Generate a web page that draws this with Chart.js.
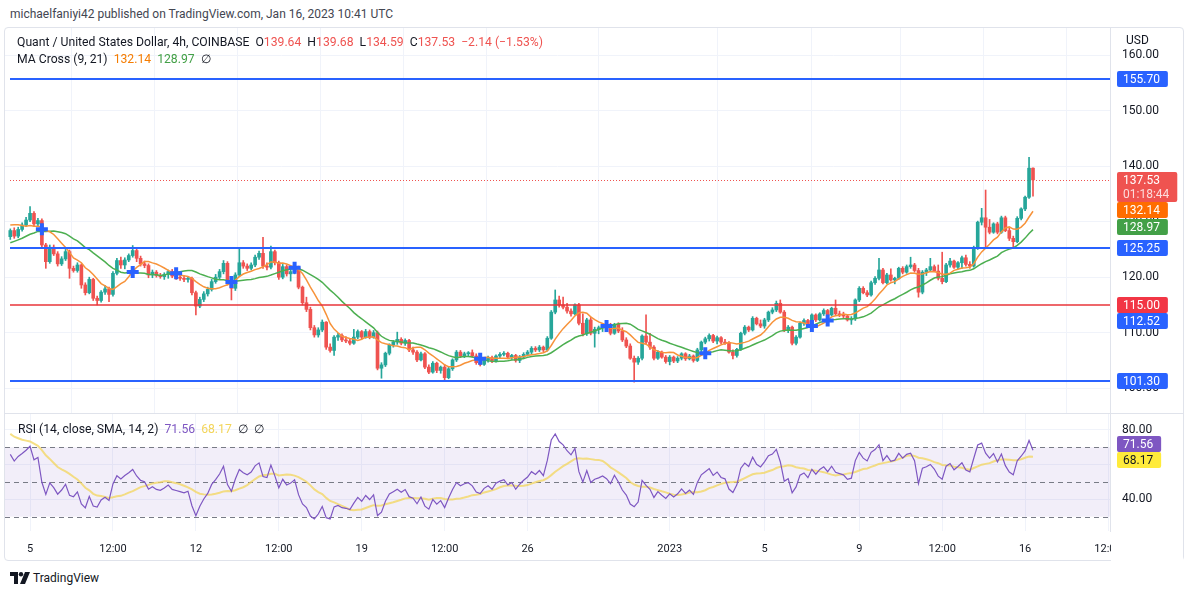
<!DOCTYPE html>
<html>
<head>
<meta charset="utf-8">
<title>Quant / United States Dollar, 4h</title>
<script src="https://cdn.jsdelivr.net/npm/chart.js@4.4.1/dist/chart.umd.min.js"></script>
<style>
  body { margin: 0; width: 1194px; height: 597px; background: #fff; position: relative; overflow: hidden;
         font-family: Roboto, "Liberation Sans", Arial, sans-serif; color: #131722; }
  .abs { position: absolute; white-space: nowrap; }
  #pub { left: 10px; top: 7px; font-size: 12px; color: #434651; }
  #frame { left: 4px; top: 27px; width: 1180px; height: 534px; border: 1px solid #e0e3eb; border-radius: 4px; box-sizing: border-box; }
  #sepH { left: 5px; top: 413px; width: 1178px; height: 1px; background: #e0e3eb; }
  #sepV { left: 1110px; top: 28px; width: 1px; height: 504px; background: #e0e3eb; }
  canvas { position: absolute; }
  #priceCanvas { left: 5px; top: 28px; }
  #rsiCanvas { left: 5px; top: 413px; }
  .lg { font-size: 12.2px; line-height: 15px; }
  .red { color: #ef5350; } .org { color: #f57c00; } .grn { color: #43a047; }
  .pur { color: #7e57c2; } .yel { color: #f3d55b; }
  #lg1 { left: 17px; top: 35px; } #lg2 { left: 17px; top: 52px; } #lg3 { left: 18px; top: 422px; }
  #foot { left: 10px; top: 571px; font-size: 12px; display: flex; align-items: center; gap: 3px; color: #131722; }
</style>
</head>
<body>
<div class="abs" id="pub">michaelfaniyi42 published on TradingView.com, Jan 16, 2023 10:41 UTC</div>
<div class="abs" id="frame"></div>
<canvas id="priceCanvas" width="1178" height="385"></canvas>
<canvas id="rsiCanvas" width="1178" height="148"></canvas>
<div class="abs" id="sepH"></div>
<div class="abs" id="sepV"></div>
<div class="abs lg" id="lg1">Quant / United States Dollar, 4h, COINBASE&nbsp; O<span class="red">139.64</span>&nbsp; H<span class="red">139.68</span>&nbsp; L<span class="red">134.59</span>&nbsp; C<span class="red">137.53</span>&nbsp; <span class="red">−2.14 (−1.53%)</span></div>
<div class="abs lg" id="lg2">MA Cross (9, 21)&nbsp; <span class="org">132.14</span>&nbsp; <span class="grn">128.97</span>&nbsp; ∅</div>
<div class="abs lg" id="lg3">RSI (14, close, SMA, 14, 2)&nbsp; <span class="pur">71.56</span>&nbsp; <span class="yel">68.17</span>&nbsp; ∅&nbsp; ∅</div>
<div class="abs" id="foot">
  <svg width="20" height="12" viewBox="0 0 20 12"><path d="M0 0H8V12H4V4H0Z" fill="#131722"/><circle cx="11" cy="2.2" r="2.2" fill="#131722"/><path d="M15 0H20L15 12H10Z" fill="#131722"/></svg>
  <span>TradingView</span>
</div>

<script>
// QNT/USD 4h candles, Dec 4 2022 -> Jan 16 2023 (index 5 = Dec 5 00:00)
const preCloses = [112.0, 113.5, 114.8, 114.2, 116.0, 117.5, 118.4, 119.9, 121.0, 122.3,
  121.8, 122.9, 123.4, 122.7, 124.1, 124.8, 124.0, 125.1, 123.6, 124.4,
  123.8, 124.8, 126.8, 128.9, 130.6, 131.4, 130.2, 130.9, 130.1, 127.3];

const opens = [127.3, 128.4, 127.4, 128.6, 129.4, 130.3, 131.5, 129.6, 130.2, 125.8,
  122.8, 125.4, 124.2, 122.4, 123.3, 124.6, 121.6, 121.2, 122.2, 118.6,
  117.2, 119.6, 116.2, 115.8, 117.3, 117.9, 116.9, 120.7, 123.0, 122.2,
  123.1, 123.9, 124.8, 123.4, 122.4, 122.1, 120.4, 120.9, 120.3, 120.1,
  120.5, 121.0, 120.2, 120.0, 119.8, 119.6, 119.8, 117.2, 114.8, 116.0,
  117.0, 117.8, 119.2, 120.0, 121.0, 122.5, 119.4, 118.0, 120.4, 122.6,
  122.0, 121.6, 122.2, 123.6, 124.3, 122.0, 121.8, 124.6, 122.6, 120.0,
  121.9, 120.6, 121.0, 121.7, 118.2, 115.4, 114.2, 110.9, 109.6, 110.5,
  111.9, 107.4, 106.8, 109.2, 109.5, 108.7, 108.5, 108.1, 109.2, 110.2,
  109.2, 110.2, 109.2, 110.0, 103.6, 104.2, 106.3, 107.8, 108.3, 108.8,
  108.1, 108.6, 106.9, 106.5, 105.1, 106.2, 103.8, 102.9, 104.5, 103.2,
  103.8, 101.9, 103.5, 105.1, 106.5, 105.8, 106.2, 106.4, 105.8, 104.6,
  104.3, 105.1, 105.5, 104.9, 105.8, 106.1, 106.3, 105.6, 105.9, 105.0,
  105.6, 106.1, 106.5, 107.2, 106.9, 107.4, 106.9, 109.0, 113.7, 115.9,
  115.0, 114.6, 113.9, 113.4, 115.0, 111.7, 109.8, 112.3, 109.9, 110.6,
  110.9, 111.3, 110.8, 109.9, 111.5, 110.3, 108.7, 107.6, 105.4, 104.7,
  105.4, 109.4, 108.3, 107.4, 105.4, 106.5, 105.6, 104.8, 105.6, 104.9,
  105.4, 106.2, 105.3, 105.8, 105.0, 106.9, 108.3, 108.9, 109.5, 108.5,
  109.1, 108.3, 108.1, 106.5, 105.9, 107.0, 109.9, 111.0, 110.5, 112.6,
  111.6, 111.2, 112.3, 113.7, 114.1, 115.3, 113.7, 110.5, 111.0, 108.1,
  109.2, 111.7, 112.2, 111.3, 113.2, 112.3, 113.4, 114.0, 113.2, 114.4,
  113.4, 113.2, 113.0, 112.3, 112.5, 115.9, 118.0, 117.2, 116.8, 119.0,
  119.8, 121.3, 119.0, 120.4, 119.5, 119.8, 121.6, 120.9, 121.9, 122.2,
  121.2, 117.3, 120.9, 121.3, 121.9, 121.1, 119.8, 119.2, 122.2, 122.9,
  121.8, 122.6, 123.5, 122.3, 122.0, 125.3, 129.9, 130.7, 129.0, 128.1,
  129.6, 128.1, 130.7, 128.4, 127.0, 126.4, 130.6, 132.3, 134.4, 139.64];

const highs = [128.7, 128.9, 129.0, 129.8, 130.8, 132.7, 131.8, 130.6, 130.5, 126.1,
  125.8, 125.8, 124.6, 123.7, 125.0, 124.9, 122.0, 122.6, 122.4, 119.0,
  120.0, 119.8, 116.6, 117.6, 118.5, 118.2, 121.0, 123.4, 123.6, 123.5,
  124.2, 125.7, 125.1, 123.8, 122.9, 122.4, 121.3, 121.2, 120.7, 120.8,
  121.3, 121.4, 120.6, 120.5, 120.2, 120.1, 120.0, 117.5, 116.4, 117.4,
  118.2, 119.6, 120.5, 121.4, 123.0, 122.8, 119.8, 120.8, 125.3, 123.0,
  122.4, 122.6, 124.0, 124.7, 127.2, 122.6, 125.6, 124.9, 122.9, 122.3,
  122.2, 121.4, 122.0, 122.0, 118.4, 116.4, 114.6, 111.3, 110.9, 112.3,
  112.0, 108.0, 109.5, 109.9, 109.8, 109.3, 109.0, 110.6, 110.5, 110.4,
  110.6, 110.5, 110.4, 110.3, 104.6, 106.5, 108.0, 108.6, 110.1, 109.1,
  108.9, 108.8, 107.4, 106.8, 106.5, 106.4, 104.2, 104.8, 104.7, 104.0,
  104.3, 103.8, 105.3, 106.8, 106.8, 106.5, 106.6, 106.9, 106.2, 105.3,
  105.3, 105.8, 105.8, 106.0, 106.4, 106.6, 106.5, 106.1, 106.1, 105.9,
  106.4, 106.8, 107.5, 107.5, 107.7, 107.6, 109.3, 114.0, 117.7, 116.6,
  116.4, 115.3, 114.3, 115.2, 115.3, 113.4, 112.6, 112.8, 111.0, 111.2,
  111.6, 111.6, 111.7, 111.7, 111.8, 110.9, 109.1, 108.0, 105.8, 105.7,
  109.6, 113.2, 109.9, 107.7, 106.8, 106.7, 105.9, 105.9, 105.8, 105.7,
  106.4, 106.4, 106.1, 106.0, 107.2, 108.5, 109.2, 109.8, 109.7, 109.4,
  109.3, 108.8, 108.4, 106.9, 107.2, 110.1, 111.3, 111.2, 112.9, 112.8,
  112.3, 112.6, 113.9, 114.5, 115.7, 115.9, 114.0, 111.3, 111.2, 109.5,
  111.9, 112.5, 112.4, 113.4, 113.4, 113.6, 114.3, 114.2, 114.6, 115.9,
  113.9, 113.7, 113.3, 112.9, 116.1, 118.3, 118.3, 117.6, 119.3, 120.1,
  123.4, 121.6, 120.7, 121.5, 120.0, 121.8, 121.9, 122.2, 123.6, 122.5,
  121.6, 121.2, 121.6, 123.4, 122.2, 122.2, 124.5, 122.5, 123.4, 123.1,
  122.8, 123.8, 124.0, 122.8, 125.6, 130.1, 132.4, 135.7, 130.4, 129.8,
  129.9, 131.0, 131.0, 128.8, 127.4, 130.9, 132.5, 134.6, 141.6, 139.68];

const lows = [126.8, 127.0, 127.1, 128.3, 129.1, 130.0, 129.2, 129.3, 125.5, 121.6,
  122.5, 123.9, 122.0, 122.1, 123.0, 119.8, 120.9, 120.9, 118.0, 116.8,
  117.0, 115.8, 115.0, 115.5, 116.9, 115.6, 116.6, 120.4, 121.6, 121.5,
  122.8, 123.6, 122.8, 122.0, 121.7, 119.9, 119.9, 120.0, 119.8, 119.6,
  119.8, 119.9, 119.6, 119.4, 119.2, 119.1, 116.8, 113.2, 114.5, 115.6,
  116.6, 117.5, 118.9, 119.6, 120.6, 118.6, 115.9, 117.6, 120.1, 121.6,
  121.2, 121.3, 121.9, 123.2, 121.6, 121.3, 121.5, 122.2, 119.6, 119.7,
  120.2, 119.3, 120.6, 117.9, 115.0, 113.8, 110.5, 109.2, 109.2, 110.2,
  107.0, 106.5, 105.9, 108.6, 108.4, 108.2, 107.8, 107.9, 108.9, 108.9,
  109.0, 108.9, 109.0, 103.3, 101.8, 103.9, 106.0, 107.4, 107.9, 107.8,
  107.7, 106.6, 106.1, 104.8, 104.9, 103.5, 102.6, 102.7, 102.8, 102.7,
  101.5, 101.7, 103.2, 104.8, 105.5, 105.5, 105.7, 105.6, 104.3, 104.0,
  104.1, 104.7, 104.6, 104.7, 105.5, 105.8, 105.3, 105.2, 104.7, 104.6,
  105.3, 105.8, 106.2, 106.6, 106.6, 106.6, 106.7, 108.8, 113.4, 114.6,
  114.3, 113.5, 113.0, 113.2, 111.4, 109.4, 109.5, 109.6, 107.4, 109.8,
  110.2, 110.5, 109.6, 109.7, 110.0, 108.4, 107.3, 105.2, 101.1, 104.3,
  105.1, 108.0, 107.0, 105.1, 105.2, 105.4, 104.5, 104.2, 104.6, 104.6,
  105.1, 105.0, 105.1, 104.7, 104.8, 106.6, 108.0, 108.5, 108.2, 108.0,
  108.0, 107.9, 106.3, 105.3, 105.6, 106.8, 109.6, 110.2, 110.3, 111.4,
  110.9, 110.8, 112.0, 113.4, 113.8, 113.5, 110.2, 110.0, 107.8, 107.8,
  109.0, 111.3, 111.0, 111.0, 112.0, 112.1, 113.1, 113.0, 113.0, 113.2,
  112.9, 112.7, 112.1, 111.5, 112.2, 115.6, 117.0, 116.5, 116.6, 118.7,
  119.5, 118.8, 118.8, 119.3, 118.8, 119.6, 120.6, 120.7, 121.6, 120.9,
  116.4, 117.0, 120.3, 121.0, 121.0, 119.5, 118.8, 119.0, 121.8, 121.6,
  121.5, 121.6, 122.0, 121.6, 121.8, 125.0, 129.4, 125.5, 127.8, 127.9,
  127.8, 127.9, 128.2, 126.6, 125.3, 126.2, 130.3, 132.0, 134.2, 134.59];

const closes = [128.4, 127.4, 128.6, 129.4, 130.3, 131.5, 129.6, 130.2, 125.8, 122.8,
  125.4, 124.2, 122.4, 123.3, 124.6, 121.6, 121.2, 122.2, 118.6, 117.2,
  119.6, 116.2, 115.8, 117.3, 117.9, 116.9, 120.7, 123.0, 122.2, 123.1,
  123.9, 124.8, 123.4, 122.4, 122.1, 120.4, 120.9, 120.3, 120.1, 120.5,
  121.0, 120.2, 120.0, 119.8, 119.6, 119.8, 117.2, 114.8, 116.0, 117.0,
  117.8, 119.2, 120.0, 121.0, 122.5, 119.4, 118.0, 120.4, 122.6, 122.0,
  121.6, 122.2, 123.6, 124.3, 122.0, 121.8, 124.6, 122.6, 120.0, 121.9,
  120.6, 121.0, 121.7, 118.2, 115.4, 114.2, 110.9, 109.6, 110.5, 111.9,
  107.4, 106.8, 109.2, 109.5, 108.7, 108.5, 108.1, 109.2, 110.2, 109.2,
  110.2, 109.2, 110.0, 103.6, 104.2, 106.3, 107.8, 108.3, 108.8, 108.1,
  108.6, 106.9, 106.5, 105.1, 106.2, 103.8, 102.9, 104.5, 103.2, 103.8,
  101.9, 103.5, 105.1, 106.5, 105.8, 106.2, 106.4, 105.8, 104.6, 104.3,
  105.1, 105.5, 104.9, 105.8, 106.1, 106.3, 105.6, 105.9, 105.0, 105.6,
  106.1, 106.5, 107.2, 106.9, 107.4, 106.9, 109.0, 113.7, 115.9, 115.0,
  114.6, 113.9, 113.4, 115.0, 111.7, 109.8, 112.3, 109.9, 110.6, 110.9,
  111.3, 110.8, 109.9, 111.5, 110.3, 108.7, 107.6, 105.4, 104.7, 105.4,
  109.4, 108.3, 107.4, 105.4, 106.5, 105.6, 104.8, 105.6, 104.9, 105.4,
  106.2, 105.3, 105.8, 105.0, 106.9, 108.3, 108.9, 109.5, 108.5, 109.1,
  108.3, 108.1, 106.5, 105.9, 107.0, 109.9, 111.0, 110.5, 112.6, 111.6,
  111.2, 112.3, 113.7, 114.1, 115.3, 113.7, 110.5, 111.0, 108.1, 109.2,
  111.7, 112.2, 111.3, 113.2, 112.3, 113.4, 114.0, 113.2, 114.4, 113.4,
  113.2, 113.0, 112.3, 112.5, 115.9, 118.0, 117.2, 116.8, 119.0, 119.8,
  121.3, 119.0, 120.4, 119.5, 119.8, 121.6, 120.9, 121.9, 122.2, 121.2,
  117.3, 120.9, 121.3, 121.9, 121.1, 119.8, 119.2, 122.2, 122.9, 121.8,
  122.6, 123.5, 122.3, 122.0, 125.3, 129.9, 130.7, 129.0, 128.1, 129.6,
  128.1, 130.7, 128.4, 127.0, 126.4, 130.6, 132.3, 134.4, 139.64, 137.53];

// time axis ticks (candle index -> label)
const tickIdx = [5, 26, 47, 68, 89, 110, 131, 167, 191, 215, 236, 257, 278];
const tickText = ['5', '12:00', '12', '12:00', '19', '12:00', '26', '2023', '5', '9', '12:00', '16', '12:00'];

// bars where the 9/21 MA cross was marked
const crossIdx = [8, 31, 42, 56, 72, 119, 151, 176, 203, 207];

// horizontal levels drawn on the chart
const blueLevels = [155.70, 125.25, 101.30];
const redLevel = 115.00;
const lastPrice = 137.53;
const priceTicks = [100, 110, 120, 130, 140, 150, 160];
const rsiTicks = [40, 60, 80];
const rsiLast = 71.56;
const rsiMaLast = 68.17;
const ma9Last = 132.14;
const ma21Last = 128.97;
const alertLevel = 112.52;

const FONT = 'Roboto, "Liberation Sans", Arial, sans-serif';
const UP = '#26a69a', DOWN = '#ef5350';
const X_MIN = -1.34, X_MAX = 278.5;

function sma(src, n) {
  return src.map((_, i) => {
    if (i < n - 1) return null;
    let s = 0;
    for (let k = i - n + 1; k <= i; k++) {
      if (src[k] == null) return null;
      s += src[k];
    }
    return s / n;
  });
}

// Wilder RSI, same as TradingView's ta.rsi
function rsi(src, len) {
  const out = [null];
  let up = 0, dn = 0;
  for (let i = 1; i < src.length; i++) {
    const ch = src[i] - src[i - 1];
    const u = Math.max(ch, 0), d = Math.max(-ch, 0);
    if (i <= len) {
      up += u / len; dn += d / len;
      if (i < len) { out.push(null); continue; }
    } else {
      up = (up * (len - 1) + u) / len;
      dn = (dn * (len - 1) + d) / len;
    }
    out.push(dn === 0 ? 100 : 100 - 100 / (1 + up / dn));
  }
  return out;
}

const allCloses = preCloses.concat(closes);
const off = preCloses.length;
const ma9 = sma(allCloses, 9).slice(off);
const ma21 = sma(allCloses, 21).slice(off);
const rsiAll = rsi(allCloses, 14);
const rsiVals = rsiAll.slice(off);
const rsiMa = sma(rsiAll, 14).slice(off);

const idx = closes.map((_, i) => i);
const isUp = i => closes[i] >= opens[i];

function xScaleOpts(showLabels) {
  return {
    type: 'linear', min: X_MIN, max: X_MAX, offset: false,
    afterBuildTicks: s => { s.ticks = tickIdx.map(v => ({ value: v })); },
    afterFit: s => { s.height = showLabels ? 30 : 0; },
    grid: { color: '#f0f3fa', drawTicks: false },
    border: { display: false },
    ticks: {
      display: showLabels, autoSkip: false, maxRotation: 0, padding: 12,
      color: '#131722', font: { family: FONT, size: 11 },
      callback: v => tickText[tickIdx.indexOf(v)]
    }
  };
}

// tick labels of the right scale are painted by the plugins (keeps the pane full height)
function yScaleOpts(min, max, ticks) {
  return {
    position: 'right', min: min, max: max,
    afterBuildTicks: s => { s.ticks = ticks.map(v => ({ value: v })); },
    afterFit: s => { s.width = 73; },
    grid: { color: '#f0f3fa', drawTicks: false },
    border: { display: false },
    ticks: { display: false }
  };
}

function drawYLabels(chart, scale, values) {
  const ctx = chart.ctx;
  ctx.save();
  ctx.font = '12px ' + FONT;
  ctx.fillStyle = '#131722';
  ctx.textBaseline = 'middle';
  values.forEach(v => ctx.fillText(v.toFixed(2), chart.chartArea.right + 12, scale.getPixelForValue(v)));
  ctx.restore();
}

// price / indicator tags on the right scale, pushed down when they overlap
function drawTags(chart, scale, tags) {
  const ctx = chart.ctx;
  const x0 = chart.chartArea.right + 7;
  ctx.save();
  ctx.font = '12px ' + FONT;
  ctx.textBaseline = 'middle';
  let lastBottom = -1e9;
  tags.map(t => Object.assign({ y: scale.getPixelForValue(t.v) }, t))
    .sort((a, b) => a.y - b.y)
    .forEach(t => {
      const h = t.sub ? 30 : 16;
      let top = Math.round(t.y - 8);
      if (top < lastBottom) top = lastBottom;
      const w = Math.max(...[t.text, t.sub].filter(Boolean).map(s => ctx.measureText(s).width)) + 14;
      ctx.fillStyle = t.bg;
      ctx.beginPath();
      ctx.roundRect(x0, top, w, h, 2);
      ctx.fill();
      ctx.fillStyle = t.fg || '#fff';
      ctx.fillText(t.text, x0 + 6, top + 8.5);
      if (t.sub) { ctx.fillStyle = 'rgba(255,255,255,0.8)'; ctx.fillText(t.sub, x0 + 6, top + 22.5); }
      lastBottom = top + h;
    });
  ctx.restore();
}

function hLine(chart, y, color, width, dash) {
  const { ctx, chartArea } = chart;
  ctx.save();
  ctx.strokeStyle = color;
  ctx.lineWidth = width;
  ctx.setLineDash(dash || []);
  ctx.beginPath();
  ctx.moveTo(chartArea.left + 5, y);
  ctx.lineTo(chartArea.right, y);
  ctx.stroke();
  ctx.restore();
}

const priceDecor = {
  id: 'priceDecor',
  beforeDatasetsDraw(chart) {
    const y = chart.scales.y;
    hLine(chart, Math.round(y.getPixelForValue(lastPrice)) + 0.5, DOWN, 1, [1, 2]);
  },
  afterDatasetsDraw(chart) {
    const y = chart.scales.y;
    blueLevels.forEach(v => hLine(chart, Math.round(y.getPixelForValue(v)), '#2962ff', 2));
    hLine(chart, Math.round(y.getPixelForValue(redLevel)), '#e8343a', 1.4);
  },
  afterDraw(chart) {
    const y = chart.scales.y;
    const ctx = chart.ctx;
    ctx.save();
    ctx.font = '12px ' + FONT;
    ctx.fillStyle = '#131722';
    ctx.textBaseline = 'middle';
    ctx.fillText('USD', chart.chartArea.right + 16, 13);
    ctx.restore();
    drawYLabels(chart, y, priceTicks);
    drawTags(chart, y, [
      { v: blueLevels[0], text: '155.70', bg: '#2962ff' },
      { v: lastPrice, text: '137.53', sub: '01:18:44', bg: '#ef5350' },
      { v: ma9Last, text: '132.14', bg: '#ff6d00' },
      { v: ma21Last, text: '128.97', bg: '#43a047' },
      { v: blueLevels[1], text: '125.25', bg: '#2962ff' },
      { v: redLevel, text: '115.00', bg: '#f23645' },
      { v: alertLevel, text: '112.52', bg: '#2962ff' },
      { v: blueLevels[2], text: '101.30', bg: '#2962ff' }
    ]);
  }
};

new Chart(document.getElementById('priceCanvas'), {
  type: 'bar',
  data: {
    datasets: [
      {
        type: 'line', label: 'MA 9', data: idx.map(i => ({ x: i, y: ma9[i] })),
        borderColor: '#f7933a', borderWidth: 1.5, pointRadius: 0, tension: 0, order: 1
      },
      {
        type: 'line', label: 'MA 21', data: idx.map(i => ({ x: i, y: ma21[i] })),
        borderColor: '#4caf50', borderWidth: 1.5, pointRadius: 0, tension: 0, order: 1
      },
      {
        type: 'scatter', label: 'Cross', data: crossIdx.map(i => ({ x: i, y: (ma9[i] + ma21[i]) / 2 })),
        pointStyle: 'cross', pointRadius: 6, borderWidth: 4, borderColor: '#2962ff', order: 0
      },
      {
        label: 'Wick', data: idx.map(i => ({ x: i, y: [lows[i], highs[i]] })),
        backgroundColor: c => isUp(c.dataIndex) ? UP : DOWN,
        barThickness: 1, grouped: false, order: 3
      },
      {
        label: 'Body', data: idx.map(i => ({ x: i, y: [opens[i], closes[i]] })),
        backgroundColor: c => isUp(c.dataIndex) ? UP : DOWN,
        barThickness: 3, minBarLength: 1, grouped: false, order: 2
      }
    ]
  },
  options: {
    responsive: false, animation: false,
    layout: { padding: 0, autoPadding: false },
    plugins: { legend: { display: false }, tooltip: { enabled: false } },
    scales: {
      x: xScaleOpts(false),
      y: yScaleOpts(95.536, 164.887, priceTicks)
    }
  },
  plugins: [priceDecor]
});

const rsiDecor = {
  id: 'rsiDecor',
  beforeDatasetsDraw(chart) {
    const { ctx, chartArea } = chart;
    const y = chart.scales.y;
    const y70 = y.getPixelForValue(70), y30 = y.getPixelForValue(30);
    ctx.save();
    ctx.fillStyle = 'rgba(126, 87, 194, 0.1)';
    ctx.fillRect(chartArea.left, y70, chartArea.right - chartArea.left, y30 - y70);
    ctx.restore();
    [70, 50, 30].forEach(v => {
      ctx.save();
      ctx.strokeStyle = '#787b86';
      ctx.lineWidth = 1;
      ctx.setLineDash([5, 4]);
      ctx.beginPath();
      const py = Math.round(y.getPixelForValue(v)) + 0.5;
      ctx.moveTo(chartArea.left, py);
      ctx.lineTo(chartArea.right, py);
      ctx.stroke();
      ctx.restore();
    });
  },
  afterDraw(chart) {
    const { ctx, chartArea } = chart;
    // the last time label runs under the price scale
    ctx.save();
    ctx.fillStyle = '#fff';
    ctx.fillRect(chartArea.right + 1, chartArea.bottom + 1, chart.width - chartArea.right, chart.height - chartArea.bottom);
    ctx.restore();
    drawYLabels(chart, chart.scales.y, rsiTicks);
    drawTags(chart, chart.scales.y, [
      { v: rsiLast, text: '71.56', bg: '#7e57c2' },
      { v: rsiMaLast, text: '68.17', bg: '#ffeb3b', fg: '#131722' }
    ]);
  }
};

new Chart(document.getElementById('rsiCanvas'), {
  type: 'line',
  data: {
    datasets: [
      {
        label: 'RSI', data: idx.map(i => ({ x: i, y: rsiVals[i] })),
        borderColor: '#7e57c2', borderWidth: 1.2, pointRadius: 0, tension: 0, order: 1
      },
      {
        label: 'RSI-based MA', data: idx.map(i => ({ x: i, y: rsiMa[i] })),
        borderColor: 'rgba(243, 213, 91, 0.75)', borderWidth: 2, pointRadius: 0, tension: 0, order: 2
      }
    ]
  },
  options: {
    responsive: false, animation: false,
    layout: { padding: 0, autoPadding: false },
    plugins: { legend: { display: false }, tooltip: { enabled: false } },
    scales: {
      x: xScaleOpts(true),
      y: yScaleOpts(21.71, 89.71, rsiTicks)
    }
  },
  plugins: [rsiDecor]
});
</script>
</body>
</html>
